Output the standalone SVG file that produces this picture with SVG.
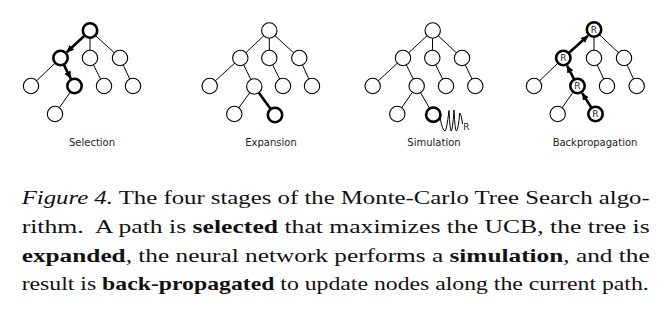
<svg xmlns="http://www.w3.org/2000/svg" width="670" height="328" viewBox="0 0 670 328">
<style>
.e{stroke:#000;stroke-width:1;fill:none}
.eb{stroke:#000;stroke-width:2.6;fill:none}
.n{fill:#fff;stroke:#000;stroke-width:1.1}
.b{fill:#fff;stroke:#000;stroke-width:2.6}
.lbl{font-family:"DejaVu Sans",sans-serif;font-size:10px;fill:#222;text-anchor:middle}
.r{font-family:"DejaVu Sans",sans-serif;font-size:9px;fill:#222;text-anchor:middle}
.cap{font-family:"Liberation Serif","Times New Roman","DejaVu Serif",serif;font-size:19px;fill:#111}
.bo{font-weight:bold}
.it{font-style:italic}
</style>
<defs>
<marker id="ah" markerUnits="userSpaceOnUse" markerWidth="8" markerHeight="7" refX="7" refY="3.5" orient="auto">
<path d="M0,0 L7,3.5 L0,7 Z" fill="#000"/>
</marker>
</defs>
<rect width="670" height="328" fill="#fff"/>
<g id="connectors">
<!-- Selection -->
<line class="e" x1="90" y1="30.5" x2="90" y2="58"/>
<line class="e" x1="90" y1="30.5" x2="120" y2="58"/>
<line class="e" x1="60.5" y1="58" x2="31" y2="86"/>
<line class="e" x1="90" y1="58" x2="104" y2="86"/>
<line class="e" x1="120" y1="58" x2="133" y2="86"/>
<line class="e" x1="74.5" y1="86" x2="55" y2="114"/>
<line class="eb" x1="84.4" y1="35.8" x2="66.7" y2="52.2" marker-end="url(#ah)"/>
<line class="eb" x1="63.9" y1="64.9" x2="70.7" y2="78.4" marker-end="url(#ah)"/>
<!-- Expansion -->
<line class="e" x1="269.3" y1="30.5" x2="240.3" y2="58"/>
<line class="e" x1="269.3" y1="30.5" x2="269.3" y2="58"/>
<line class="e" x1="269.3" y1="30.5" x2="299.3" y2="58"/>
<line class="e" x1="240.3" y1="58" x2="209.7" y2="86"/>
<line class="e" x1="240.3" y1="58" x2="254.3" y2="86.5"/>
<line class="e" x1="269.3" y1="58" x2="283" y2="86"/>
<line class="e" x1="299.3" y1="58" x2="312" y2="86"/>
<line class="e" x1="254.3" y1="86.5" x2="234.3" y2="114"/>
<line class="eb" x1="254.3" y1="86.5" x2="275" y2="115"/>
<!-- Simulation -->
<line class="e" x1="432.7" y1="30.5" x2="403" y2="58"/>
<line class="e" x1="432.7" y1="30.5" x2="432.3" y2="58"/>
<line class="e" x1="432.7" y1="30.5" x2="462" y2="58"/>
<line class="e" x1="403" y1="58" x2="372.7" y2="86"/>
<line class="e" x1="403" y1="58" x2="416.7" y2="86"/>
<line class="e" x1="432.3" y1="58" x2="446" y2="86"/>
<line class="e" x1="462" y1="58" x2="475.3" y2="86"/>
<line class="e" x1="416.7" y1="86" x2="397.3" y2="114"/>
<line class="e" x1="416.7" y1="86" x2="433.3" y2="114.7"/>
<path class="e" stroke-width="1.3" stroke-linejoin="round" d="M440,117.5 Q442.5,131 445,131 Q446.5,131 449,110.5 Q450,131 451.2,131 Q452.5,131 454,110 Q455,131 456.4,131 Q458,131 459.8,113 Q461.5,115 462.5,124"/>
<!-- Backpropagation -->
<line class="e" x1="594" y1="29.5" x2="594" y2="58"/>
<line class="e" x1="594" y1="29.5" x2="624" y2="58"/>
<line class="e" x1="563.3" y1="58" x2="534" y2="86"/>
<line class="e" x1="594" y1="58" x2="607" y2="86"/>
<line class="e" x1="624" y1="58" x2="636.7" y2="86"/>
<line class="e" x1="577.5" y1="86" x2="557.7" y2="114"/>
<line class="eb" x1="591.3" y1="107.5" x2="582.1" y2="93.1" marker-end="url(#ah)"/>
<line class="eb" x1="574" y1="79.1" x2="567.1" y2="65.6" marker-end="url(#ah)"/>
<line class="eb" x1="569" y1="52.8" x2="588" y2="35.7" marker-end="url(#ah)"/>
</g>
<g id="sel-root"><circle class="b" cx="90" cy="30.5" r="7.2"/></g>
<g id="sel-a"><circle class="b" cx="60.5" cy="58" r="7.2"/></g>
<g id="sel-b"><circle class="n" cx="90" cy="58" r="7.7"/></g>
<g id="sel-c"><circle class="n" cx="120" cy="58" r="7.7"/></g>
<g id="sel-d"><circle class="n" cx="31" cy="86" r="7.7"/></g>
<g id="sel-e"><circle class="b" cx="74.5" cy="86" r="7.2"/></g>
<g id="sel-f"><circle class="n" cx="104" cy="86" r="7.7"/></g>
<g id="sel-g"><circle class="n" cx="133" cy="86" r="7.7"/></g>
<g id="sel-h"><circle class="n" cx="55" cy="114" r="7.7"/></g>
<g id="exp-root"><circle class="n" cx="269.3" cy="30.5" r="7.7"/></g>
<g id="exp-a"><circle class="n" cx="240.3" cy="58" r="7.7"/></g>
<g id="exp-b"><circle class="n" cx="269.3" cy="58" r="7.7"/></g>
<g id="exp-c"><circle class="n" cx="299.3" cy="58" r="7.7"/></g>
<g id="exp-d"><circle class="n" cx="209.7" cy="86" r="7.7"/></g>
<g id="exp-e"><circle class="n" cx="254.3" cy="86.5" r="7.7"/></g>
<g id="exp-f"><circle class="n" cx="283" cy="86" r="7.7"/></g>
<g id="exp-g"><circle class="n" cx="312" cy="86" r="7.7"/></g>
<g id="exp-h"><circle class="n" cx="234.3" cy="114" r="7.7"/></g>
<g id="exp-new"><circle class="b" cx="275" cy="115" r="7.2"/></g>
<g id="sim-root"><circle class="n" cx="432.7" cy="30.5" r="7.7"/></g>
<g id="sim-a"><circle class="n" cx="403" cy="58" r="7.7"/></g>
<g id="sim-b"><circle class="n" cx="432.3" cy="58" r="7.7"/></g>
<g id="sim-c"><circle class="n" cx="462" cy="58" r="7.7"/></g>
<g id="sim-d"><circle class="n" cx="372.7" cy="86" r="7.7"/></g>
<g id="sim-e"><circle class="n" cx="416.7" cy="86" r="7.7"/></g>
<g id="sim-f"><circle class="n" cx="446" cy="86" r="7.7"/></g>
<g id="sim-g"><circle class="n" cx="475.3" cy="86" r="7.7"/></g>
<g id="sim-h"><circle class="n" cx="397.3" cy="114" r="7.7"/></g>
<g id="sim-new"><circle class="b" cx="433.3" cy="114.7" r="7.2"/><text class="r" x="466.5" y="129.5">R</text></g>
<g id="bp-root"><circle class="b" cx="594" cy="29.5" r="7.2"/><text class="r" x="594" y="32.8">R</text></g>
<g id="bp-a"><circle class="b" cx="563.3" cy="58" r="7.2"/><text class="r" x="563.3" y="61.3">R</text></g>
<g id="bp-b"><circle class="n" cx="594" cy="58" r="7.7"/></g>
<g id="bp-c"><circle class="n" cx="624" cy="58" r="7.7"/></g>
<g id="bp-d"><circle class="n" cx="534" cy="86" r="7.7"/></g>
<g id="bp-e"><circle class="b" cx="577.5" cy="86" r="7.2"/><text class="r" x="577.5" y="89.3">R</text></g>
<g id="bp-f"><circle class="n" cx="607" cy="86" r="7.7"/></g>
<g id="bp-g"><circle class="n" cx="636.7" cy="86" r="7.7"/></g>
<g id="bp-h"><circle class="n" cx="557.7" cy="114" r="7.7"/></g>
<g id="bp-new"><circle class="b" cx="595.5" cy="114" r="7.2"/><text class="r" x="595.5" y="117.3">R</text></g>
<g id="labels">
<text class="lbl" x="92" y="146">Selection</text>
<text class="lbl" x="271" y="146">Expansion</text>
<text class="lbl" x="434" y="146">Simulation</text>
<text class="lbl" x="595" y="146">Backpropagation</text>
</g>
<g id="caption">
<text class="cap" x="21.7" y="204" textLength="628" lengthAdjust="spacingAndGlyphs"><tspan class="it">Figure 4.</tspan> The four stages of the Monte-Carlo Tree Search algo-</text>
<text class="cap" x="21.7" y="232.5" textLength="628" lengthAdjust="spacingAndGlyphs" xml:space="preserve">rithm.  A path is <tspan class="bo">selected</tspan> that maximizes the UCB, the tree is</text>
<text class="cap" x="21.7" y="261.5" textLength="628" lengthAdjust="spacingAndGlyphs"><tspan class="bo">expanded</tspan>, the neural network performs a <tspan class="bo">simulation</tspan>, and the</text>
<text class="cap" x="21.7" y="290" textLength="627" lengthAdjust="spacingAndGlyphs">result is <tspan class="bo">back-propagated</tspan> to update nodes along the current path.</text>
</g>
</svg>
